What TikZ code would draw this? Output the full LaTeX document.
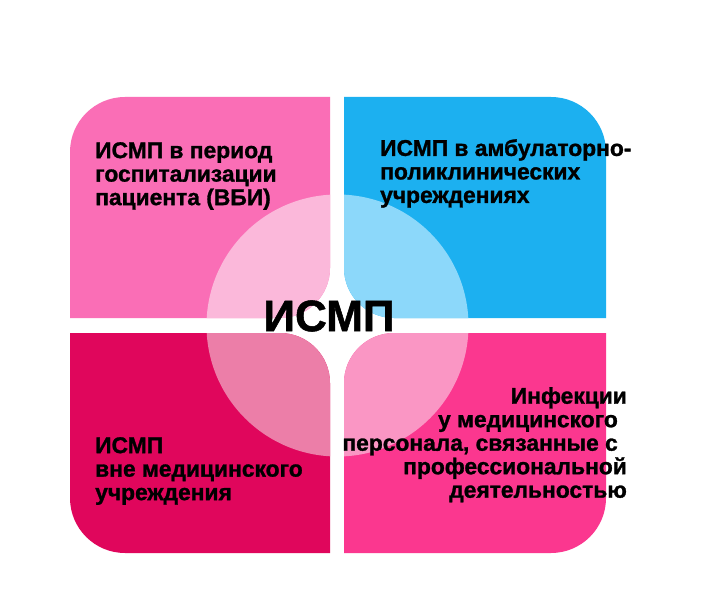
\documentclass[tikz,border=0pt]{standalone}
\usepackage{fontspec}
\setmainfont{Liberation Sans}[BoldFeatures={FakeBold=1.2}]
\definecolor{tlmain}{RGB}{250,110,182}
\definecolor{tllight}{RGB}{251,184,218}
\definecolor{trmain}{RGB}{28,176,240}
\definecolor{trlight}{RGB}{140,216,250}
\definecolor{blmain}{RGB}{224,6,92}
\definecolor{bllight}{RGB}{236,126,168}
\definecolor{brmain}{RGB}{251,55,143}
\definecolor{brlight}{RGB}{250,150,196}
\begin{document}
\begin{tikzpicture}[x=1pt,y=1pt,
  lbl/.style={inner sep=0pt, font=\fontsize{22.8}{23.5}\selectfont\bfseries, text=black},
  title/.style={inner sep=0pt, font=\fontsize{44}{44}\selectfont\bfseries, text=black}]
\fill[white] (0,0) rectangle (708,603);
\useasboundingbox (0,0) rectangle (708,603);
\coordinate (c) at (337.5,277.5);
% quadrants
\fill[tlmain, save path=\pTL] (70,285) -- (70,451) arc[start angle=180,end angle=90,radius=55] -- (330,506) -- (330,335) arc[start angle=0,end angle=-90,radius=50] -- cycle;
\fill[trmain, save path=\pTR] (344,506) -- (551,506) arc[start angle=90,end angle=0,radius=55] -- (606,285) -- (394,285) arc[start angle=270,end angle=180,radius=50] -- cycle;
\fill[blmain, save path=\pBL] (70,270) -- (280,270) arc[start angle=90,end angle=0,radius=50] -- (330,50) -- (125,50) arc[start angle=270,end angle=180,radius=55] -- cycle;
\fill[brmain, save path=\pBR] (344,220) arc[start angle=180,end angle=90,radius=50] -- (606,270) -- (606,105) arc[start angle=0,end angle=-90,radius=55] -- (344,50) -- cycle;
% light circle parts
\begin{scope}\path[use path=\pTL, clip]; \fill[tllight] (c) circle (131); \end{scope}
\begin{scope}\path[use path=\pTR, clip]; \fill[trlight] (c) circle (131); \end{scope}
\begin{scope}\path[use path=\pBL, clip]; \fill[bllight] (c) circle (131); \end{scope}
\begin{scope}\path[use path=\pBR, clip]; \fill[brlight] (c) circle (131); \end{scope}
% texts
\node[title] (center) at (329,287) {ИСМП};
\node[lbl, anchor=north west, align=left] (tl) at (95,461) {ИСМП в период\\госпитализации\\пациента (ВБИ)};
\node[lbl, anchor=north west, align=left] (tr) at (380,464) {ИСМП в амбулаторно-\\поликлинических\\учреждениях};
\node[lbl, anchor=north west, align=left] (bl) at (95,166) {ИСМП\\вне медицинского\\учреждения};
\node[lbl, anchor=north east, align=right] (br) at (627,216) {Инфекции\\у медицинского\rule{9pt}{0pt}\\персонала, связанные с\rule{9pt}{0pt}\\профессиональной\\деятельностью};
\end{tikzpicture}
\end{document}
